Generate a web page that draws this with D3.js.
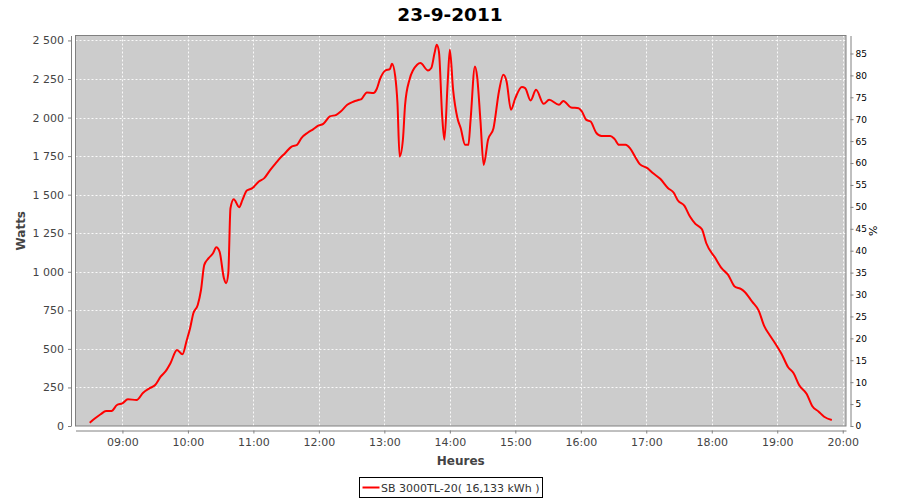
<!DOCTYPE html>
<html>
<head>
<meta charset="utf-8">
<script src="https://cdn.jsdelivr.net/npm/d3@7"></script>
<style>
  html, body { margin: 0; padding: 0; background: #ffffff; }
  svg { display: block; font-family: "DejaVu Sans", "Liberation Sans", sans-serif; }
</style>
</head>
<body>
<svg id="chart" width="900" height="500"></svg>
<script>
// ---- data ----
const chartTitle = "23-9-2011";
const seriesName = "SB 3000TL-20( 16,133 kWh )";
const times = [
  "08:30","08:35","08:40","08:45","08:50","08:55","09:00","09:05","09:13","09:19",
  "09:25","09:30","09:35","09:40","09:44","09:50","09:55","09:59","10:02","10:05",
  "10:09","10:12","10:15","10:19","10:23","10:26","10:29","10:33","10:35","10:37",
  "10:39","10:42","10:47","10:50","10:54","10:59","11:05","11:10","11:15","11:20",
  "11:23","11:29","11:35","11:40","11:44","11:50","11:55","11:59","12:04","12:10",
  "12:16","12:20","12:26","12:32","12:37","12:39","12:44","12:50","12:53","12:56",
  "13:01","13:05","13:07","13:10","13:12","13:14","13:17","13:19","13:23","13:30",
  "13:33","13:40","13:43","13:46","13:48","13:50","13:53","13:55","13:58","14:00",
  "14:03","14:07","14:10","14:14","14:17","14:19","14:23","14:25","14:28","14:31",
  "14:35","14:40","14:45","14:49","14:52","14:56","15:00","15:06","15:09","15:14",
  "15:19","15:26","15:31","15:40","15:44","15:51","15:58","16:01","16:05","16:09",
  "16:14","16:19","16:27","16:31","16:35","16:41","16:45","16:50","16:54","17:01",
  "17:06","17:13","17:20","17:25","17:29","17:35","17:40","17:45","17:51","17:55",
  "18:03","18:09","18:15","18:21","18:27","18:30","18:37","18:43","18:48","18:53",
  "18:58","19:04","19:10","19:15","19:20","19:27","19:32","19:38","19:43","19:50"
];
const watts = [
  21,50,76,97,97,136,147,173,169,216,
  245,266,320,359,407,493,465,558,634,731,
  785,882,1045,1088,1120,1159,1131,958,926,991,
  1412,1471,1419,1466,1527,1542,1585,1607,1656,1700,
  1726,1769,1812,1823,1867,1903,1925,1946,1959,2007,
  2018,2039,2083,2104,2115,2120,2163,2159,2185,2249,
  2305,2314,2349,2266,2094,1747,1856,2083,2245,2342,
  2353,2305,2321,2418,2472,2428,2007,1856,2223,2440,
  2180,1996,1931,1823,1823,1985,2331,2266,1985,1693,
  1856,1931,2169,2277,2234,2050,2126,2198,2191,2111,
  2180,2089,2115,2083,2108,2065,2061,2039,1985,1974,
  1903,1881,1881,1860,1823,1823,1802,1743,1698,1672,
  1640,1601,1542,1514,1462,1427,1358,1311,1276,1185,
  1092,1023,980,904,887,871,806,748,649,590,
  537,467,381,342,266,208,130,93,60,39
];
const hourTicks = ["09:00","10:00","11:00","12:00","13:00","14:00","15:00","16:00","17:00","18:00","19:00","20:00"];
const wattTicks = [0,250,500,750,1000,1250,1500,1750,2000,2250,2500];
const pctTicks = [0,5,10,15,20,25,30,35,40,45,50,55,60,65,70,75,80,85];
const xRange = ["08:17","20:03"];
const wattMax = 2532;
const pctMax = 89.1;

// ---- helpers ----
const parseT = d3.timeParse("%Y-%m-%d %H:%M");
const toDate = s => parseT("2011-09-23 " + s);
const loc = d3.formatLocale({decimal: ",", thousands: "\u00a0", grouping: [3], currency: ["", ""]});
const fmtW = loc.format(",d");

const svg = d3.select("#chart");
const P = {left: 75.5, top: 35.5, right: 846, bottom: 426};
const W = P.right - P.left, H = P.bottom - P.top;

const x = d3.scaleTime().domain(xRange.map(toDate)).range([P.left, P.right]);
const y = d3.scaleLinear().domain([0, wattMax]).range([P.bottom, P.top]);
const y2 = d3.scaleLinear().domain([0, pctMax]).range([P.bottom, P.top]);

// title
svg.append("text").attr("x", 450).attr("y", 21).attr("text-anchor", "middle")
  .attr("font-size", 18.5).attr("font-weight", "bold").attr("fill", "#000").text(chartTitle);

// plot background
svg.append("rect").attr("x", P.left).attr("y", P.top).attr("width", W).attr("height", H)
  .attr("fill", "#cccccc");

// gridlines
const grid = svg.append("g").attr("stroke", "#ffffff").attr("stroke-width", 1)
  .attr("stroke-dasharray", "2,2").attr("opacity", 0.9);
hourTicks.forEach(t => {
  const gx = Math.round(x(toDate(t))) + 0.5;
  if (gx < P.right - 1) grid.append("line").attr("x1", gx).attr("x2", gx).attr("y1", P.top).attr("y2", P.bottom);
});
wattTicks.forEach(v => {
  const gy = Math.round(y(v)) + 0.5;
  if (v > 0) grid.append("line").attr("x1", P.left).attr("x2", P.right).attr("y1", gy).attr("y2", gy);
});

// line
const pts = times.map((t, i) => ({t: toDate(t), v: watts[i]}));
svg.append("path").datum(pts)
  .attr("fill", "none").attr("stroke", "#ff0000").attr("stroke-width", 2)
  .attr("stroke-linejoin", "round")
  .attr("d", d3.line().x(d => x(d.t)).y(d => y(d.v)).curve(d3.curveMonotoneX));

// outline
svg.append("rect").attr("x", P.left).attr("y", P.top).attr("width", W).attr("height", H)
  .attr("fill", "none").attr("stroke", "#808080").attr("stroke-width", 1);

// left axis
const gL = svg.append("g").attr("transform", `translate(${P.left - 4.5},0)`)
  .call(d3.axisLeft(y).tickValues(wattTicks).tickFormat(fmtW).tickSize(3).tickPadding(4).tickSizeOuter(0));
gL.select(".domain").attr("stroke", "#808080");
gL.selectAll(".tick line").attr("stroke", "#808080");
gL.selectAll("text").attr("font-size", 11).attr("fill", "#444").attr("font-family", "DejaVu Sans");

// right axis
const gR = svg.append("g").attr("transform", `translate(${P.right + 4.5},0)`)
  .call(d3.axisRight(y2).tickValues(pctTicks).tickSize(3).tickPadding(2).tickSizeOuter(0));
gR.select(".domain").attr("stroke", "#808080");
gR.selectAll(".tick line").attr("stroke", "#808080");
gR.selectAll("text").attr("font-size", 9).attr("fill", "#000").attr("font-family", "DejaVu Sans");

// bottom axis
const gB = svg.append("g").attr("transform", `translate(0,${P.bottom + 4.5})`)
  .call(d3.axisBottom(x).tickValues(hourTicks.map(toDate)).tickFormat(d3.timeFormat("%H:%M"))
    .tickSize(3).tickPadding(5).tickSizeOuter(0));
gB.select(".domain").attr("stroke", "#808080");
gB.selectAll(".tick line").attr("stroke", "#808080");
gB.selectAll("text").attr("font-size", 11).attr("fill", "#444").attr("font-family", "DejaVu Sans");

// axis titles
svg.append("text").attr("x", (P.left + P.right) / 2).attr("y", 464.5).attr("text-anchor", "middle")
  .attr("font-size", 12).attr("font-weight", "bold").attr("fill", "#444").text("Heures");
svg.append("text").attr("transform", `translate(25,${(P.top + P.bottom) / 2}) rotate(-90)`)
  .attr("text-anchor", "middle").attr("font-size", 12).attr("font-weight", "bold").attr("fill", "#444").text("Watts");
svg.append("text").attr("transform", `translate(877,${(P.top + P.bottom) / 2}) rotate(-90)`)
  .attr("text-anchor", "middle").attr("font-size", 11).attr("fill", "#000").text("%");

// legend
const lg = svg.append("g");
const lgRect = lg.append("rect").attr("fill", "#fff").attr("stroke", "#000").attr("stroke-width", 1);
const lgText = lg.append("text").attr("font-size", 11).attr("fill", "#333").text(seriesName);
const tw = lgText.node().getComputedTextLength();
const boxW = Math.round(tw + 25);
const bx = Math.round(450 - boxW / 2) + 0.5;
lgRect.attr("x", bx).attr("y", 477.5).attr("width", boxW).attr("height", 20);
lg.append("line").attr("x1", bx + 3).attr("x2", bx + 20).attr("y1", 487.5).attr("y2", 487.5)
  .attr("stroke", "#ff0000").attr("stroke-width", 2);
lgText.attr("x", bx + 21.5).attr("y", 491.5);
</script>
</body>
</html>
